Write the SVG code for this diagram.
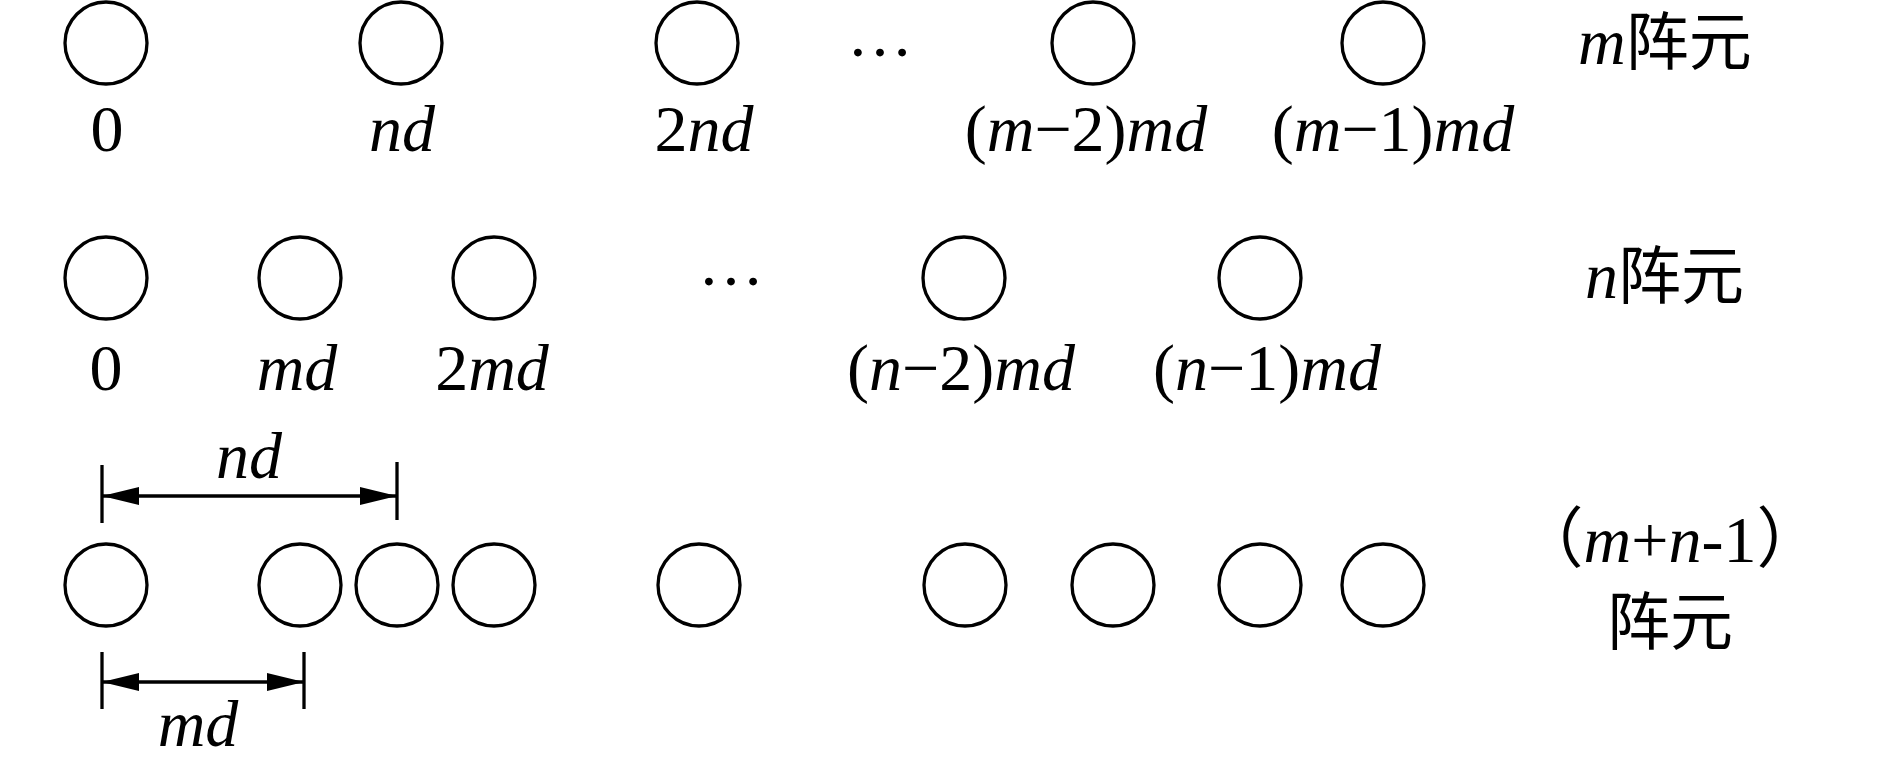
<svg xmlns="http://www.w3.org/2000/svg" width="1890" height="768" viewBox="0 0 1890 768">
<style>
.el{fill:none;stroke:#000;stroke-width:3.3}
.t{font-family:"Liberation Serif","Noto Sans CJK SC",serif;font-size:66px;fill:#000}
.c{font-family:"Noto Sans CJK SC",sans-serif;font-size:63px;fill:#000}
.mid{text-anchor:middle}
.i{font-style:italic}
.dim{stroke:#000;stroke-width:3.3;fill:none}
</style>
<defs>
<marker id="ah" viewBox="0 0 37 18" refX="37" refY="9" markerWidth="37" markerHeight="18" markerUnits="userSpaceOnUse" orient="auto-start-reverse">
<path d="M0,0 L37,9 L0,18 Z" fill="#000"/>
</marker>
</defs>
<rect width="1890" height="768" fill="#fff"/>

<g id="row-m">
<g id="m0"><circle class="el" cx="106" cy="43" r="41"/><text class="t mid" x="107" y="151">0</text></g>
<g id="m1"><circle class="el" cx="401" cy="43" r="41"/><text class="t mid i" x="402" y="151">nd</text></g>
<g id="m2"><circle class="el" cx="697" cy="43" r="41"/><text class="t mid" x="704" y="151">2<tspan class="i">nd</tspan></text></g>
<g id="m-dots"><text class="t mid" x="880" y="56">…</text></g>
<g id="m3"><circle class="el" cx="1093" cy="43" r="41"/><text class="t mid" x="1086" y="151">(<tspan class="i">m</tspan>−2)<tspan class="i">md</tspan></text></g>
<g id="m4"><circle class="el" cx="1383" cy="43" r="41"/><text class="t mid" x="1393" y="151">(<tspan class="i">m</tspan>−1)<tspan class="i">md</tspan></text></g>
<g id="m-label"><text class="t" x="1578" y="64"><tspan class="i">m</tspan><tspan class="c">阵元</tspan></text></g>
</g>

<g id="row-n">
<g id="n0"><circle class="el" cx="106" cy="278" r="41"/><text class="t mid" x="106" y="390">0</text></g>
<g id="n1"><circle class="el" cx="300" cy="278" r="41"/><text class="t mid i" x="297" y="390">md</text></g>
<g id="n2"><circle class="el" cx="494" cy="278" r="41"/><text class="t mid" x="492" y="390">2<tspan class="i">md</tspan></text></g>
<g id="n-dots"><text class="t mid" x="731" y="285">…</text></g>
<g id="n3"><circle class="el" cx="964" cy="278" r="41"/><text class="t mid" x="961" y="390">(<tspan class="i">n</tspan>−2)<tspan class="i">md</tspan></text></g>
<g id="n4"><circle class="el" cx="1260" cy="278" r="41"/><text class="t mid" x="1267" y="390">(<tspan class="i">n</tspan>−1)<tspan class="i">md</tspan></text></g>
<g id="n-label"><text class="t" x="1585" y="298"><tspan class="i">n</tspan><tspan class="c">阵元</tspan></text></g>
</g>

<g id="row-mn">
<g id="s0"><circle class="el" cx="106" cy="585" r="41"/></g>
<g id="s1"><circle class="el" cx="300" cy="585" r="41"/></g>
<g id="s2"><circle class="el" cx="397" cy="585" r="41"/></g>
<g id="s3"><circle class="el" cx="494" cy="585" r="41"/></g>
<g id="s4"><circle class="el" cx="699" cy="585" r="41"/></g>
<g id="s5"><circle class="el" cx="965" cy="585" r="41"/></g>
<g id="s6"><circle class="el" cx="1113" cy="585" r="41"/></g>
<g id="s7"><circle class="el" cx="1260" cy="585" r="41"/></g>
<g id="s8"><circle class="el" cx="1383" cy="585" r="41"/></g>
<g id="mn-label">
<text class="t mid" x="1670" y="562">（<tspan class="i">m</tspan>+<tspan class="i">n</tspan>-1）</text>
<text class="c mid" x="1670" y="644">阵元</text>
</g>
</g>

<g id="connectors">
<line class="dim" x1="102" y1="465" x2="102" y2="523"/>
<line class="dim" x1="397" y1="462" x2="397" y2="520"/>
<line class="dim" x1="102" y1="496" x2="397" y2="496" marker-start="url(#ah)" marker-end="url(#ah)"/>
<text class="t mid i" x="249" y="478">nd</text>
<line class="dim" x1="102" y1="652" x2="102" y2="709"/>
<line class="dim" x1="304" y1="652" x2="304" y2="709"/>
<line class="dim" x1="102" y1="682" x2="304" y2="682" marker-start="url(#ah)" marker-end="url(#ah)"/>
<text class="t mid i" x="198" y="746">md</text>
</g>
</svg>
